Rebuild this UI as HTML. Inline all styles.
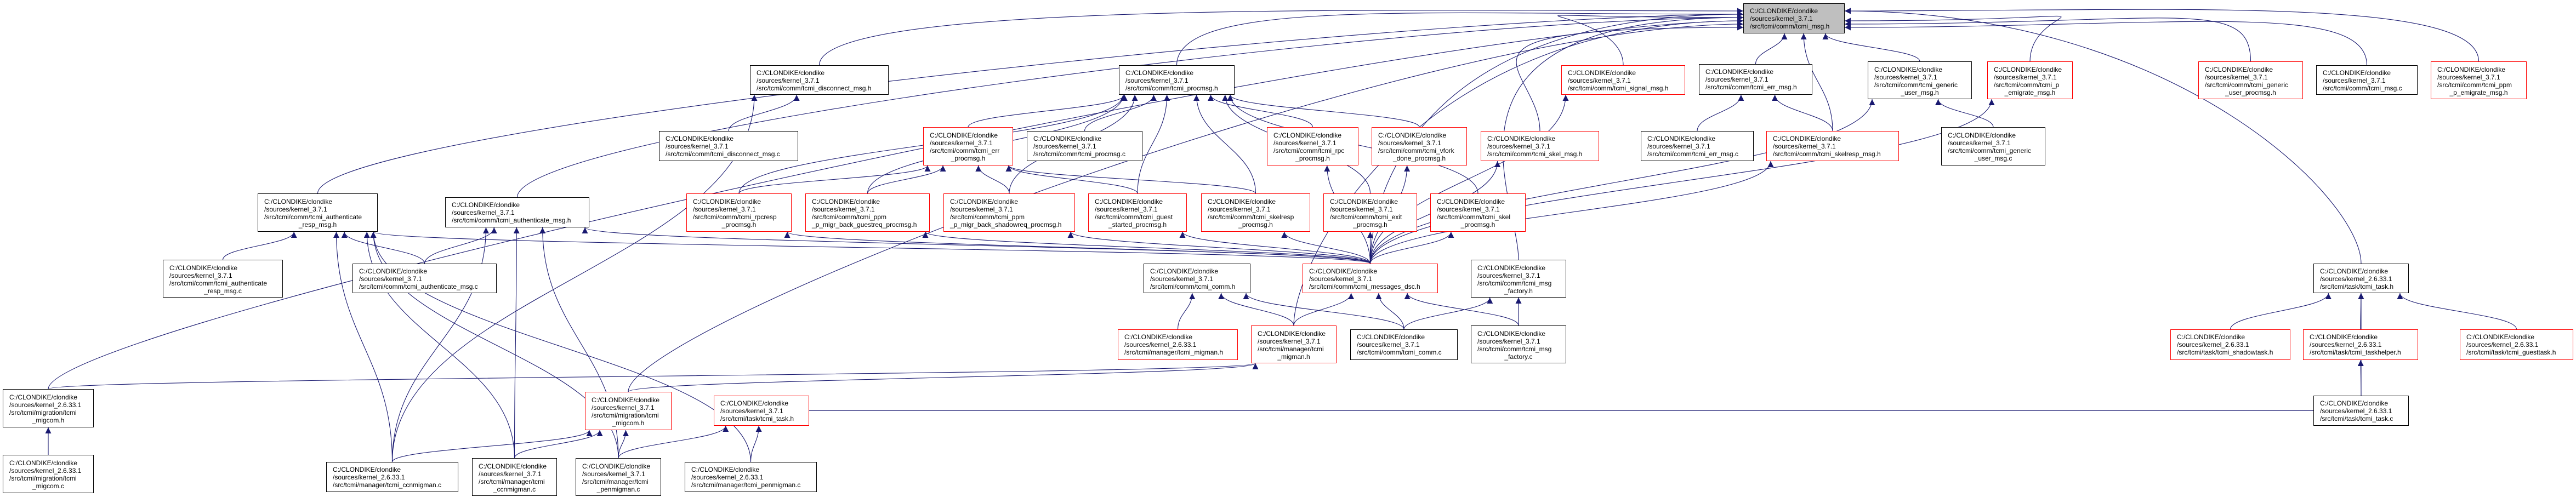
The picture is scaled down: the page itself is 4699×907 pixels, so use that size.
<!DOCTYPE html>
<html><head><meta charset="utf-8">
<style>
html,body{margin:0;padding:0;background:#fff;}
#c{position:relative;width:4699px;height:907px;overflow:hidden;background:#fff;}
svg{position:absolute;left:0;top:0;}
.n{position:absolute;box-sizing:border-box;border:1px solid #000;background:#fff;font-family:"Liberation Sans",Arial,sans-serif;font-size:12px;line-height:14px;color:#000;padding:6px 4px 0 11px;white-space:nowrap;}
.r{border:1.5px solid #ff0000;}
.g{background:#bfbfbf;border:1.5px solid #000;}
.n4{padding-top:7px;}
.n span{display:block;}
.n .ce{text-align:center;padding-right:7px;}
</style></head><body><div id="c">
<svg id="s" width="4699" height="907" viewBox="0 0 4699 907">
<defs><marker id="a" viewBox="0 0 10 10" refX="10" refY="5" markerWidth="11" markerHeight="11" markerUnits="userSpaceOnUse" orient="auto"><path d="M0,0 L10,5 L0,10 z" fill="#191970"/></marker></defs>
<g id="e" fill="none" stroke="#191970" stroke-width="1.1"></g>
</svg>

<div class="n g" id="N1" style="left:3180px;top:6px;width:185px;height:55px">C:/CLONDIKE/clondike<br>/sources/kernel_3.7.1<br>/src/tcmi/comm/tcmi_msg.h</div>
<div class="n" id="N2" style="left:1368px;top:119px;width:253px;height:54px">C:/CLONDIKE/clondike<br>/sources/kernel_3.7.1<br>/src/tcmi/comm/tcmi_disconnect_msg.h</div>
<div class="n" id="N3" style="left:1202px;top:239px;width:254px;height:55px">C:/CLONDIKE/clondike<br>/sources/kernel_3.7.1<br>/src/tcmi/comm/tcmi_disconnect_msg.c</div>
<div class="n" id="N4" style="left:2041px;top:119px;width:211px;height:54px">C:/CLONDIKE/clondike<br>/sources/kernel_3.7.1<br>/src/tcmi/comm/tcmi_procmsg.h</div>
<div class="n r n4" id="N5" style="left:1684px;top:232px;width:164px;height:70px">C:/CLONDIKE/clondike<br>/sources/kernel_3.7.1<br>/src/tcmi/comm/tcmi_err<span class="ce">_procmsg.h</span></div>
<div class="n" id="N6" style="left:1873px;top:239px;width:211px;height:55px">C:/CLONDIKE/clondike<br>/sources/kernel_3.7.1<br>/src/tcmi/comm/tcmi_procmsg.c</div>
<div class="n r n4" id="N7" style="left:2311px;top:232px;width:167px;height:70px">C:/CLONDIKE/clondike<br>/sources/kernel_3.7.1<br>/src/tcmi/comm/tcmi_rpc<span class="ce">_procmsg.h</span></div>
<div class="n r n4" id="N8" style="left:2502px;top:232px;width:174px;height:70px">C:/CLONDIKE/clondike<br>/sources/kernel_3.7.1<br>/src/tcmi/comm/tcmi_vfork<span class="ce">_done_procmsg.h</span></div>
<div class="n r" id="N9" style="left:2848px;top:119px;width:226px;height:54px">C:/CLONDIKE/clondike<br>/sources/kernel_3.7.1<br>/src/tcmi/comm/tcmi_signal_msg.h</div>
<div class="n" id="N10" style="left:3099px;top:117px;width:207px;height:56px">C:/CLONDIKE/clondike<br>/sources/kernel_3.7.1<br>/src/tcmi/comm/tcmi_err_msg.h</div>
<div class="n n4" id="N11" style="left:3407px;top:112px;width:190px;height:69px">C:/CLONDIKE/clondike<br>/sources/kernel_3.7.1<br>/src/tcmi/comm/tcmi_generic<span class="ce">_user_msg.h</span></div>
<div class="n r n4" id="N12" style="left:3625px;top:112px;width:156px;height:69px">C:/CLONDIKE/clondike<br>/sources/kernel_3.7.1<br>/src/tcmi/comm/tcmi_p<span class="ce">_emigrate_msg.h</span></div>
<div class="n r n4" id="N13" style="left:4010px;top:112px;width:191px;height:69px">C:/CLONDIKE/clondike<br>/sources/kernel_3.7.1<br>/src/tcmi/comm/tcmi_generic<span class="ce">_user_procmsg.h</span></div>
<div class="n" id="N14" style="left:4225px;top:119px;width:185px;height:54px">C:/CLONDIKE/clondike<br>/sources/kernel_3.7.1<br>/src/tcmi/comm/tcmi_msg.c</div>
<div class="n r n4" id="N15" style="left:4434px;top:112px;width:175px;height:69px">C:/CLONDIKE/clondike<br>/sources/kernel_3.7.1<br>/src/tcmi/comm/tcmi_ppm<span class="ce">_p_emigrate_msg.h</span></div>
<div class="n r" id="N16" style="left:2701px;top:239px;width:216px;height:55px">C:/CLONDIKE/clondike<br>/sources/kernel_3.7.1<br>/src/tcmi/comm/tcmi_skel_msg.h</div>
<div class="n" id="N17" style="left:2993px;top:239px;width:206px;height:55px">C:/CLONDIKE/clondike<br>/sources/kernel_3.7.1<br>/src/tcmi/comm/tcmi_err_msg.c</div>
<div class="n r" id="N18" style="left:3222px;top:239px;width:242px;height:55px">C:/CLONDIKE/clondike<br>/sources/kernel_3.7.1<br>/src/tcmi/comm/tcmi_skelresp_msg.h</div>
<div class="n n4" id="N19" style="left:3541px;top:232px;width:190px;height:70px">C:/CLONDIKE/clondike<br>/sources/kernel_3.7.1<br>/src/tcmi/comm/tcmi_generic<span class="ce">_user_msg.c</span></div>
<div class="n n4" id="N20" style="left:470px;top:353px;width:219px;height:70px">C:/CLONDIKE/clondike<br>/sources/kernel_3.7.1<br>/src/tcmi/comm/tcmi_authenticate<span class="ce">_resp_msg.h</span></div>
<div class="n" id="N21" style="left:812px;top:360px;width:263px;height:55px">C:/CLONDIKE/clondike<br>/sources/kernel_3.7.1<br>/src/tcmi/comm/tcmi_authenticate_msg.h</div>
<div class="n r n4" id="N22" style="left:1252px;top:353px;width:192px;height:70px">C:/CLONDIKE/clondike<br>/sources/kernel_3.7.1<br>/src/tcmi/comm/tcmi_rpcresp<span class="ce">_procmsg.h</span></div>
<div class="n r n4" id="N23" style="left:1469px;top:353px;width:227px;height:70px">C:/CLONDIKE/clondike<br>/sources/kernel_3.7.1<br>/src/tcmi/comm/tcmi_ppm<br>_p_migr_back_guestreq_procmsg.h</div>
<div class="n r n4" id="N24" style="left:1721px;top:353px;width:240px;height:70px">C:/CLONDIKE/clondike<br>/sources/kernel_3.7.1<br>/src/tcmi/comm/tcmi_ppm<br>_p_migr_back_shadowreq_procmsg.h</div>
<div class="n r n4" id="N25" style="left:1985px;top:353px;width:180px;height:70px">C:/CLONDIKE/clondike<br>/sources/kernel_3.7.1<br>/src/tcmi/comm/tcmi_guest<span class="ce">_started_procmsg.h</span></div>
<div class="n r n4" id="N26" style="left:2191px;top:353px;width:199px;height:70px">C:/CLONDIKE/clondike<br>/sources/kernel_3.7.1<br>/src/tcmi/comm/tcmi_skelresp<span class="ce">_procmsg.h</span></div>
<div class="n r n4" id="N27" style="left:2414px;top:353px;width:171px;height:70px">C:/CLONDIKE/clondike<br>/sources/kernel_3.7.1<br>/src/tcmi/comm/tcmi_exit<span class="ce">_procmsg.h</span></div>
<div class="n r n4" id="N28" style="left:2609px;top:353px;width:174px;height:70px">C:/CLONDIKE/clondike<br>/sources/kernel_3.7.1<br>/src/tcmi/comm/tcmi_skel<span class="ce">_procmsg.h</span></div>
<div class="n n4" id="N29" style="left:297px;top:474px;width:219px;height:69px">C:/CLONDIKE/clondike<br>/sources/kernel_3.7.1<br>/src/tcmi/comm/tcmi_authenticate<span class="ce">_resp_msg.c</span></div>
<div class="n" id="N30" style="left:643px;top:481px;width:263px;height:54px">C:/CLONDIKE/clondike<br>/sources/kernel_3.7.1<br>/src/tcmi/comm/tcmi_authenticate_msg.c</div>
<div class="n" id="N31" style="left:2086px;top:481px;width:195px;height:54px">C:/CLONDIKE/clondike<br>/sources/kernel_3.7.1<br>/src/tcmi/comm/tcmi_comm.h</div>
<div class="n r" id="N32" style="left:2376px;top:481px;width:247px;height:54px">C:/CLONDIKE/clondike<br>/sources/kernel_3.7.1<br>/src/tcmi/comm/tcmi_messages_dsc.h</div>
<div class="n n4" id="N33" style="left:2683px;top:474px;width:174px;height:69px">C:/CLONDIKE/clondike<br>/sources/kernel_3.7.1<br>/src/tcmi/comm/tcmi_msg<span class="ce">_factory.h</span></div>
<div class="n" id="N34" style="left:4220px;top:481px;width:174px;height:54px">C:/CLONDIKE/clondike<br>/sources/kernel_2.6.33.1<br>/src/tcmi/task/tcmi_task.h</div>
<div class="n r" id="N35" style="left:2039px;top:601px;width:219px;height:56px">C:/CLONDIKE/clondike<br>/sources/kernel_2.6.33.1<br>/src/tcmi/manager/tcmi_migman.h</div>
<div class="n r n4" id="N36" style="left:2282px;top:594px;width:156px;height:69px">C:/CLONDIKE/clondike<br>/sources/kernel_3.7.1<br>/src/tcmi/manager/tcmi<span class="ce">_migman.h</span></div>
<div class="n" id="N37" style="left:2463px;top:601px;width:196px;height:56px">C:/CLONDIKE/clondike<br>/sources/kernel_3.7.1<br>/src/tcmi/comm/tcmi_comm.c</div>
<div class="n n4" id="N38" style="left:2683px;top:594px;width:174px;height:69px">C:/CLONDIKE/clondike<br>/sources/kernel_3.7.1<br>/src/tcmi/comm/tcmi_msg<span class="ce">_factory.c</span></div>
<div class="n r" id="N39" style="left:3959px;top:601px;width:219px;height:56px">C:/CLONDIKE/clondike<br>/sources/kernel_2.6.33.1<br>/src/tcmi/task/tcmi_shadowtask.h</div>
<div class="n r" id="N40" style="left:4201px;top:601px;width:210px;height:56px">C:/CLONDIKE/clondike<br>/sources/kernel_2.6.33.1<br>/src/tcmi/task/tcmi_taskhelper.h</div>
<div class="n r" id="N41" style="left:4487px;top:601px;width:207px;height:56px">C:/CLONDIKE/clondike<br>/sources/kernel_2.6.33.1<br>/src/tcmi/task/tcmi_guesttask.h</div>
<div class="n n4" id="N42" style="left:5px;top:710px;width:166px;height:70px">C:/CLONDIKE/clondike<br>/sources/kernel_2.6.33.1<br>/src/tcmi/migration/tcmi<span class="ce">_migcom.h</span></div>
<div class="n r n4" id="N43" style="left:1067px;top:715px;width:158px;height:70px">C:/CLONDIKE/clondike<br>/sources/kernel_3.7.1<br>/src/tcmi/migration/tcmi<span class="ce">_migcom.h</span></div>
<div class="n r" id="N44" style="left:1302px;top:722px;width:174px;height:55px">C:/CLONDIKE/clondike<br>/sources/kernel_3.7.1<br>/src/tcmi/task/tcmi_task.h</div>
<div class="n" id="N45" style="left:4220px;top:722px;width:174px;height:55px">C:/CLONDIKE/clondike<br>/sources/kernel_2.6.33.1<br>/src/tcmi/task/tcmi_task.c</div>
<div class="n n4" id="N46" style="left:5px;top:830px;width:166px;height:70px">C:/CLONDIKE/clondike<br>/sources/kernel_2.6.33.1<br>/src/tcmi/migration/tcmi<span class="ce">_migcom.c</span></div>
<div class="n" id="N47" style="left:595px;top:843px;width:241px;height:55px">C:/CLONDIKE/clondike<br>/sources/kernel_2.6.33.1<br>/src/tcmi/manager/tcmi_ccnmigman.c</div>
<div class="n n4" id="N48" style="left:861px;top:836px;width:155px;height:69px">C:/CLONDIKE/clondike<br>/sources/kernel_3.7.1<br>/src/tcmi/manager/tcmi<span class="ce">_ccnmigman.c</span></div>
<div class="n n4" id="N49" style="left:1050px;top:836px;width:156px;height:69px">C:/CLONDIKE/clondike<br>/sources/kernel_3.7.1<br>/src/tcmi/manager/tcmi<span class="ce">_penmigman.c</span></div>
<div class="n" id="N50" style="left:1249px;top:843px;width:241px;height:55px">C:/CLONDIKE/clondike<br>/sources/kernel_2.6.33.1<br>/src/tcmi/manager/tcmi_penmigman.c</div>
</div>
<script>
(function(){
var E=[[2,1],[4,1],[9,1],[10,1],[11,1],[12,1],[13,1],[14,1],[15,1],[20,1],[21,1],[42,1],[43,1],[16,1],[18,1],[34,1],[32,1],[33,1],[36,1],
[3,2],[5,4],[6,4],[7,4],[8,4],[22,4],[23,4],[24,4],[25,4],[26,4],[27,4],[28,4],
[22,5],[23,5],[24,5],[25,5],[26,5],[17,10],[18,10],[19,11],
[32,7],[32,8],[32,16],[32,9],[32,18],[32,11],[32,12],[32,22],[32,23],[32,24],[32,25],[32,26],[32,27],[32,28],[32,20],[32,21],
[29,20],[30,20],[30,21],[35,31],[36,31],[37,31],[37,32],[36,32],[38,32],[38,33],[37,33],
[39,34],[40,34],[41,34],[45,40],[45,34],[46,42],[42,36],[43,36],
[48,43],[49,43],[47,43],[49,44],[50,44],[47,21],[48,21],[49,21],[48,20],[49,20],[47,20],[50,20],[47,2],[44,45]];
function box(i){var d=document.getElementById('N'+i);return{x:d.offsetLeft,y:d.offsetTop,w:d.offsetWidth,h:d.offsetHeight};}
var g=document.getElementById('e'),ns='http://www.w3.org/2000/svg',k=0;
E.forEach(function(p){
 var c=box(p[0]),q=box(p[1]);var d;
 var cx=c.x+c.w/2,cy=c.y,px=q.x+q.w/2,py=q.y+q.h;
 if(p[1]==1 && (cx<3000||cx>3600)){
  var left=cx<3000;var ex=left?q.x:q.x+q.w;var ey=20+(k++%6)*6;
  var sy=c.y;
  d='M'+cx+','+sy+' C'+cx+','+(sy-120)+' '+(left?ex-600:ex+600)+','+ey+' '+ex+','+ey;
 } else if(c.y>=q.y+q.h-5 || true){
  if(cy<py){ // child above parent bottom (side edge)
   var ex2=(cx<q.x)?q.x:q.x+q.w, ey2=q.y+q.h/2;
   var sx2=(cx<q.x)?c.x+c.w:c.x, sy2=c.y+c.h/2;
   d='M'+sx2+','+sy2+' C'+(sx2+ex2)/2+','+sy2+' '+(sx2+ex2)/2+','+ey2+' '+ex2+','+ey2;
  } else {
   var off=(cx-px)*0.25; px=Math.max(q.x+8,Math.min(q.x+q.w-8,px+off));
   var m=(cy-py)*0.45;
   d='M'+cx+','+cy+' C'+cx+','+(cy-m)+' '+px+','+(py+m)+' '+px+','+py;
  }
 }
 var pa=document.createElementNS(ns,'path');pa.setAttribute('d',d);
 if(!(p[0]==44&&p[1]==45))pa.setAttribute('marker-end','url(#a)');
 g.appendChild(pa);
});
})();
</script>
</body></html>
